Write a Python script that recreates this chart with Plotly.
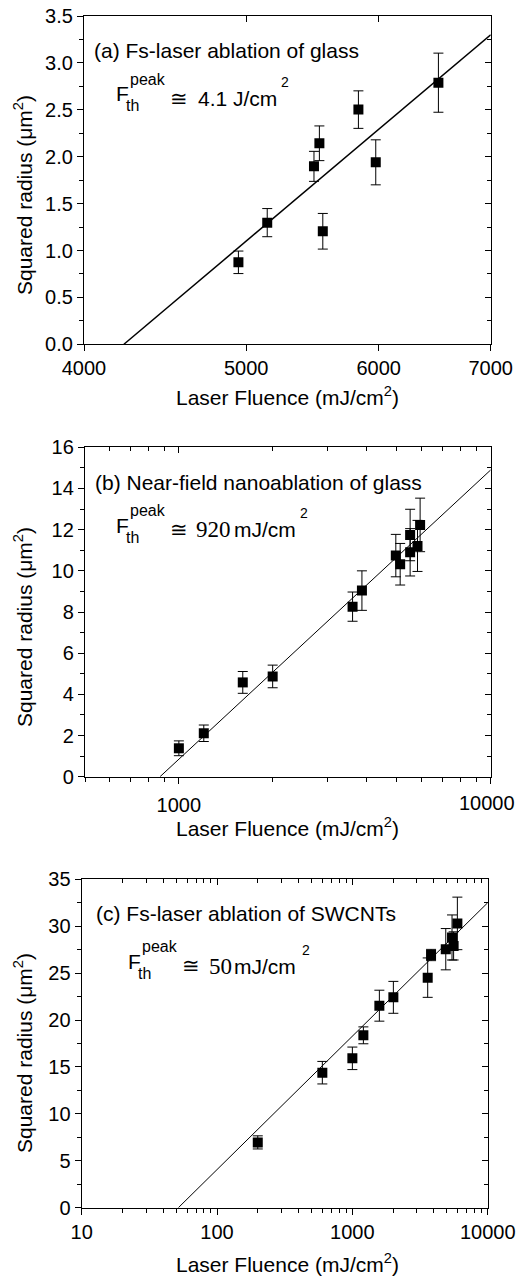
import plotly.graph_objects as go
import math

W, H = 516, 1279
SANS = "Liberation Sans, Arial, sans-serif"
SERIF = "Liberation Serif, Times New Roman, serif"

# ---------------- data ----------------
# (a) Fs-laser ablation of glass
a_fluence = [4947, 5147, 5489, 5530, 5556, 5835, 5976, 6514]
a_r2 = [0.874, 1.297, 1.897, 2.143, 1.205, 2.502, 1.940, 2.789]
a_err = [0.12, 0.15, 0.16, 0.185, 0.19, 0.20, 0.24, 0.315]
a_fit_x = [4226, 7000]
a_fit_y = [0.0, 3.30]
a_xticks = [4000, 5000, 6000, 7000]
a_xticklabels = ["4000", "5000", "6000", "7000"]

# (b) Near-field nanoablation of glass
b_fluence = [1000, 1202, 1603, 1999, 3606, 3864, 4963, 5125, 5516, 5516, 5825, 5938]
b_r2 = [1.38, 2.11, 4.58, 4.87, 8.26, 9.04, 10.74, 10.32, 11.74, 10.90, 11.21, 12.23]
b_err = [0.36, 0.40, 0.53, 0.55, 0.71, 0.96, 1.03, 1.01, 1.25, 1.15, 1.24, 1.30]
b_fit_x = [870, 10000]
b_fit_y = [0.0, 14.9]
b_xticks = [1000, 10000]
b_xticklabels = ["1000", "10000"]

# (c) Fs-laser ablation of SWCNTs
c_fluence = [200, 600, 1000, 1206, 1583, 2009, 3603, 3814, 4900, 5450, 5600, 5969]
c_r2 = [6.96, 14.39, 15.92, 18.37, 21.53, 22.42, 24.52, 26.93, 27.55, 28.8, 27.9, 30.3]
c_err = [0.7, 1.2, 1.2, 0.9, 1.65, 1.7, 2.1, 0.6, 2.2, 2.4, 1.5, 2.8]
c_fit_x = [51.8, 10000]
c_fit_y = [0.0, 32.5]
c_xticks = [10, 100, 1000, 10000]
c_xticklabels = ["10", "100", "1000", "10000"]


def fx(px):
    return px / W


def fy(py):
    return 1 - py / H


def log_minors(lo, hi):
    vals = []
    d = 10 ** math.floor(math.log10(lo))
    while d < hi:
        for m in range(2, 10):
            v = m * d
            if lo <= v <= hi:
                vals.append(v)
        d *= 10
    return vals


fig = go.Figure()

panels = [
    dict(x=a_fluence, y=a_r2, e=a_err, fx_=a_fit_x, fy_=a_fit_y, xr=(4000, 7000), yr=(0, 3.5),
         dt=0.5, mdt=0.25, fmt=".1f", xt=a_xticks, xl=a_xticklabels, minors=[],
         dom_x=(84, 490.7), dom_y=(16, 344.3), lw=1.5, standoff=0),
    dict(x=b_fluence, y=b_r2, e=b_err, fx_=b_fit_x, fy_=b_fit_y, xr=(500, 10000), yr=(0, 16),
         dt=2, mdt=1, fmt="d", xt=b_xticks, xl=b_xticklabels[:1] + [""],
         minors=log_minors(500, 10000),
         dom_x=(85, 490.7), dom_y=(447.3, 776.7), lw=1.0, standoff=4),
    dict(x=c_fluence, y=c_r2, e=c_err, fx_=c_fit_x, fy_=c_fit_y, xr=(10, 10000), yr=(0, 35),
         dt=5, mdt=2.5, fmt="d", xt=c_xticks, xl=c_xticklabels, minors=log_minors(10, 10000),
         dom_x=(81.7, 487.7), dom_y=(879.3, 1207.7), lw=1.0, standoff=0),
]

tickfont = dict(family=SANS, size=20, color="black")
layout = {}


def empty_trace(xa, ya):
    # carries no marks; it only makes plotly draw the overlay axis
    fig.add_trace(go.Scatter(x=[], y=[], mode="markers", xaxis=xa, yaxis=ya,
                             showlegend=False, hoverinfo="skip"))


for i, p in enumerate(panels):
    n = i + 1
    xs = "" if n == 1 else str(n)
    xref, yref = "x" + xs, "y" + xs
    fig.add_trace(go.Scatter(x=p["fx_"], y=p["fy_"], mode="lines",
                             line=dict(color="black", width=p["lw"]),
                             xaxis=xref, yaxis=yref, showlegend=False, hoverinfo="skip"))
    fig.add_trace(go.Scatter(x=p["x"], y=p["y"], mode="markers",
                             marker=dict(symbol="square", size=10, color="black"),
                             error_y=dict(type="data", array=p["e"], color="black",
                                          thickness=1, width=5),
                             xaxis=xref, yaxis=yref, showlegend=False))
    xrange_ = [math.log10(p["xr"][0]), math.log10(p["xr"][1])]
    common_x = dict(type="log", range=xrange_, showgrid=False, zeroline=False, automargin=False,
                    showline=True, linecolor="black", linewidth=1.3)
    common_y = dict(range=list(p["yr"]), dtick=p["dt"], tick0=0, showgrid=False, zeroline=False,
                    automargin=False, showline=True, linecolor="black", linewidth=1.3)
    layout["xaxis" + xs] = dict(
        **common_x, domain=[fx(p["dom_x"][0]), fx(p["dom_x"][1])], anchor=yref,
        tickmode="array", tickvals=p["xt"], ticktext=p["xl"], ticklabelstandoff=p["standoff"],
        ticklabeloverflow="allow",
        ticks="outside", ticklen=6, tickwidth=1.2, tickcolor="black", tickfont=tickfont,
    )
    layout["yaxis" + xs] = dict(
        **common_y, domain=[fy(p["dom_y"][1]), fy(p["dom_y"][0])], anchor=xref,
        tickformat=p["fmt"], ticks="outside", ticklen=6, tickwidth=1.2, tickcolor="black",
        tickfont=tickfont,
        minor=dict(dtick=p["mdt"], ticks="outside", ticklen=3.5, tickwidth=1,
                   tickcolor="black", showgrid=False),
    )
    # inward major ticks on top and right
    xt_top = "x" + str(n + 3)
    yt_right = "y" + str(n + 3)
    layout["xaxis" + str(n + 3)] = dict(
        **common_x, overlaying=xref, side="top", anchor=yref,
        tickmode="array", tickvals=p["xt"], showticklabels=False,
        ticks="inside", ticklen=6, tickwidth=1.2, tickcolor="black")
    layout["yaxis" + str(n + 3)] = dict(
        **common_y, overlaying=yref, side="right", anchor=xref,
        showticklabels=False, ticks="inside", ticklen=6, tickwidth=1.2, tickcolor="black",
        minor=dict(dtick=p["mdt"], ticks="inside", ticklen=3.5, tickwidth=1,
                   tickcolor="black", showgrid=False))
    empty_trace(xt_top, yref)
    empty_trace(xref, yt_right)
    # minor log ticks (bottom outside, top inside)
    if p["minors"]:
        layout["xaxis" + str(n + 6)] = dict(
            **common_x, overlaying=xref, side="bottom", anchor=yref,
            tickmode="array", tickvals=p["minors"], showticklabels=False,
            ticks="outside", ticklen=4, tickwidth=1, tickcolor="black")
        layout["xaxis" + str(n + 9)] = dict(
            **common_x, overlaying=xref, side="top", anchor=yref,
            tickmode="array", tickvals=p["minors"], showticklabels=False,
            ticks="inside", ticklen=4, tickwidth=1, tickcolor="black")
        empty_trace("x" + str(n + 6), yref)
        empty_trace("x" + str(n + 9), yref)

anns = []


def ann(text, x, y, size, xanchor="left", family=SANS, angle=0):
    anns.append(dict(text=text, x=fx(x), y=fy(y), xref="paper", yref="paper",
                     xanchor=xanchor, yanchor="middle", showarrow=False, textangle=angle,
                     font=dict(family=family, size=size, color="black")))


# right-most tick label of panel (b), nudged inside the page as in the original
ann(b_xticklabels[1], 486.5, 803, 20, xanchor="center")

# panel labels
ann("(a) Fs-laser ablation of glass", 92, 50.5, 21)
ann("(b) Near-field nanoablation of glass", 93, 483, 21)
ann("(c) Fs-laser ablation of SWCNTs", 94, 914, 21)

# threshold annotations
for dx, dy, val, valfam, valx, unit_x, sup_x in [
    (0, 0, "4.1 J/cm", SANS, 196, None, 279),
    (0, 431, "920", SERIF, 194, 232, 298),
    (12, 867.6, "50", SERIF, 207, 232, 300),
]:
    ann("F", 114 + dx, 94 + dy, 21)
    ann("th", 124 + dx, 106 + dy, 16)
    ann("peak", 128 + dx, 79 + dy, 16)
    ann("\u2245", 179 + dx, 98 + dy, 21, xanchor="center")
    if unit_x is None:
        ann(val, valx, 98.5 + dy, 21, family=valfam)
    else:
        ann(val, valx, 98.5 + dy, 23, family=valfam)
        ann("mJ/cm", unit_x, 98.5 + dy, 21)
    ann("2", sup_x, 82 + dy, 14)

# axis titles
ann("Laser Fluence (mJ/cm<sup>2</sup>)", 287, 396, 21, xanchor="center")
ann("Laser Fluence (mJ/cm<sup>2</sup>)", 287.5, 827, 21, xanchor="center")
ann("Laser Fluence (mJ/cm<sup>2</sup>)", 287.5, 1263, 21, xanchor="center")
ann("Squared radius (\u03bcm<sup>2</sup>)", 23, 195, 21, xanchor="center", angle=-90)
ann("Squared radius (\u03bcm<sup>2</sup>)", 23, 627, 21, xanchor="center", angle=-90)
ann("Squared radius (\u03bcm<sup>2</sup>)", 23, 1053, 21, xanchor="center", angle=-90)

fig.update_layout(**layout)
fig.update_layout(template="none", width=W, height=H, margin=dict(l=0, r=0, t=0, b=0),
                  paper_bgcolor="white", plot_bgcolor="white", annotations=anns,
                  font=dict(family=SANS, color="black"))

fig.write_html("out.html")
